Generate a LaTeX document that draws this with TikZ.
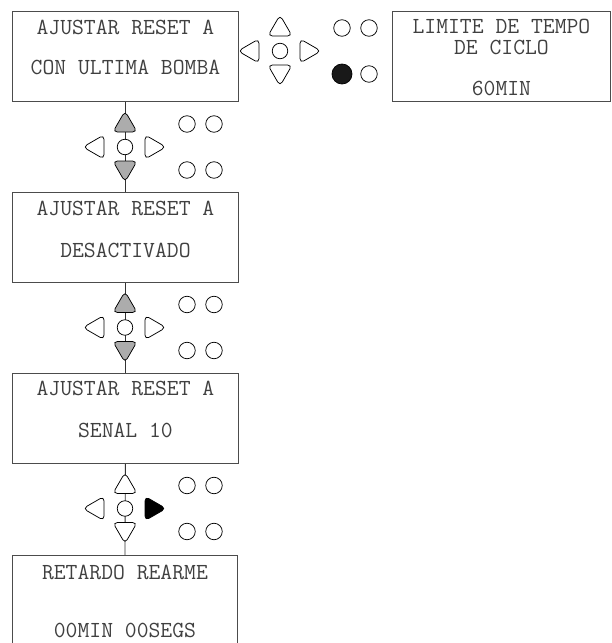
\documentclass[tikz,border=0pt]{standalone}
\usepackage{fontspec}
\usetikzlibrary{shapes.geometric, positioning}

% one keypad: name, centre, up/down style, right style, lower-left led style
\newcommand{\keypad}[5]{%
    \node[led, minimum size=15.5pt] (#1) at (#2) {};
    \node[key, #3] (#1up) at ([yshift=22pt]#1.center) {};
    \node[key, #3, shape border rotate=180] (#1dn) at ([yshift=-21pt]#1.center) {};
    \node[key, shape border rotate=90] (#1lt) at ([xshift=-28pt]#1.center) {};
    \node[key, #4, shape border rotate=-90] (#1rt) at ([xshift=27pt]#1.center) {};
    \node[led] (#1a) at ([xshift=62pt, yshift=23pt]#1.center) {};
    \node[led] (#1b) at ([xshift=89pt, yshift=23pt]#1.center) {};
    \node[led, #5] (#1c) at ([xshift=62pt, yshift=-23pt]#1.center) {};
    \node[led] (#1d) at ([xshift=89pt, yshift=-23pt]#1.center) {};
}

\begin{document}
\begin{tikzpicture}[x=1pt, y=-1pt,
    screen/.style={rectangle, draw=black!70, line width=0.9pt, minimum width=226pt, minimum height=90pt, anchor=north west, inner sep=0pt},
    txt/.style={font=\ttfamily\fontsize{23}{25}\selectfont, text=black!75, inner sep=0pt},
    wire/.style={draw=black!80, line width=0.9pt},
    key/.style={regular polygon, regular polygon sides=3, draw, line width=0.75pt, rounded corners=4.5pt, minimum size=28pt, inner sep=0pt, fill=white},
    keyon/.style={fill=gray!65},
    keyhit/.style={fill=black},
    led/.style={circle, draw, line width=0.75pt, minimum size=16.5pt, inner sep=0pt, fill=white},
    ledon/.style={fill=black!90, minimum size=20pt}
]
    \path[use as bounding box, clip] (0,0) rectangle (611,643);

    % Screens
    \node[screen] (scr1) at (12,11) {};
    \node[screen, minimum width=218pt] (scrR) at (392,11) {};
    \node[screen] (scr2) at (12,192) {};
    \node[screen] (scr3) at (12,373) {};
    \node[screen, minimum width=225pt, minimum height=110pt] (scr4) at (12,555) {};

    % Links
    \draw[wire] (scr1.south) -- (scr2.north);
    \draw[wire] (scr2.south) -- (scr3.north);
    \draw[wire] (scr3.south) -- (scr4.north);

    % Keypads
    \keypad{kp1}{280,51}{}{}{ledon}
    \keypad{kp2}{125,147}{keyon}{}{}
    \keypad{kp3}{125,327.5}{keyon}{}{}
    \keypad{kp4}{125,508.5}{}{keyhit}{}

    % Texts
    \node[txt] (scr1a) at ([yshift=-16pt]scr1.north) {AJUSTAR RESET A};
    \node[txt] (scr1b) at ([yshift=-56pt]scr1.north) {CON ULTIMA BOMBA};
    \node[txt] (scrRa) at ([yshift=-15pt]scrR.north) {LIMITE DE TEMPO};
    \node[txt] (scrRb) at ([yshift=-36pt]scrR.north) {DE CICLO};
    \node[txt] (scrRc) at ([yshift=-77pt]scrR.north) {60MIN};
    \node[txt] (scr2a) at ([yshift=-16pt]scr2.north) {AJUSTAR RESET A};
    \node[txt] (scr2b) at ([yshift=-58pt]scr2.north) {DESACTIVADO};
    \node[txt] (scr3a) at ([yshift=-15pt]scr3.north) {AJUSTAR RESET A};
    \node[txt] (scr3b) at ([yshift=-57pt]scr3.north) {SENAL 10};
    \node[txt] (scr4a) at ([yshift=-17pt]scr4.north) {RETARDO REARME};
    \node[txt] (scr4b) at ([yshift=-75pt]scr4.north) {00MIN 00SEGS};
\end{tikzpicture}
\end{document}
